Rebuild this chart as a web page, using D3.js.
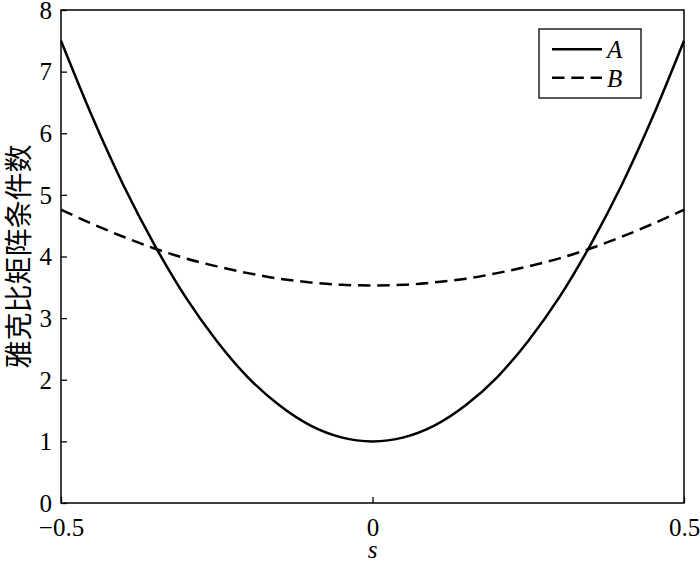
<!DOCTYPE html>
<html><head><meta charset="utf-8">
<script src="https://cdn.jsdelivr.net/npm/d3@7"></script>
<style>body{margin:0;background:#fff}svg{display:block}</style>
</head><body>
<script>
const sValues = [-0.5,-0.45,-0.4,-0.35,-0.3,-0.25,-0.2,-0.15,-0.1,-0.05,0,0.05,0.1,0.15,0.2,0.25,0.3,0.35,0.4,0.45,0.5];
const seriesA = [7.5,6.27,5.16,4.19,3.34,2.63,2.04,1.59,1.26,1.065,1.0,1.065,1.26,1.59,2.04,2.63,3.34,4.19,5.16,6.27,7.5];
const seriesB = [4.76,4.53,4.32,4.13,3.97,3.84,3.73,3.64,3.58,3.54,3.53,3.54,3.58,3.64,3.73,3.84,3.97,4.13,4.32,4.53,4.76];
const xTicks = [-0.5,0,0.5];
const yTicks = [0,1,2,3,4,5,6,7,8];
const legendLabels = ["A","B"];
const yLabel = "雅克比矩阵条件数";
const xLabel = "s";

const W=700,H=562;
const L=61,R=684,T=10,B=503;
const svg=d3.select("body").append("svg").attr("width",W).attr("height",H);
const x=d3.scaleLinear().domain([-0.5,0.5]).range([L,R]);
const y=d3.scaleLinear().domain([0,8]).range([B,T]);
const serif="'Liberation Serif','Times New Roman',serif";
const dash="12.5,6.8";

const line=d3.line().x((d,i)=>x(sValues[i])).y(d=>y(d)).curve(d3.curveMonotoneX);
svg.append("path").datum(seriesB).attr("d",line).attr("fill","none").attr("stroke","#000").attr("stroke-width",2.5).attr("stroke-dasharray",dash);
svg.append("path").datum(seriesA).attr("d",line).attr("fill","none").attr("stroke","#000").attr("stroke-width",2.5);

// axes
const xa=svg.append("g").attr("transform",`translate(0,${B})`).call(d3.axisBottom(x).tickValues(xTicks).tickSize(-6).tickPadding(14).tickFormat(d=>d===0?"0":(d<0?"\u2212":"")+Math.abs(d)));
const ya=svg.append("g").attr("transform",`translate(${L},0)`).call(d3.axisLeft(y).tickValues(yTicks).tickSize(-6).tickPadding(14));
[xa,ya].forEach(g=>{g.select(".domain").remove();g.selectAll("line").attr("stroke","#000").attr("stroke-width",1.3);g.selectAll("text").attr("font-family",serif).attr("font-size",25).attr("fill","#000");});
ya.selectAll("text").attr("dy","0.33em").attr("x",-9);
xa.selectAll("text").attr("y",15);

svg.append("rect").attr("x",L).attr("y",T).attr("width",R-L).attr("height",B-T).attr("fill","none").attr("stroke","#000").attr("stroke-width",1.5);

// labels
svg.append("text").attr("x",x(0)).attr("y",558).attr("text-anchor","middle").attr("font-family",serif).attr("font-style","italic").attr("font-size",25).text(xLabel);
svg.append("text").attr("transform",`translate(29,${(T+B)/2}) rotate(-90)`).attr("text-anchor","middle").attr("font-family","'Noto Sans CJK SC',sans-serif").attr("font-size",28).text(yLabel);

// legend
const lg=svg.append("g");
lg.append("rect").attr("x",539).attr("y",29).attr("width",102).attr("height",69).attr("fill","#fff").attr("stroke","#000").attr("stroke-width",1.3);
legendLabels.forEach((lab,i)=>{
  const yy=49.3+i*28.4;
  lg.append("line").attr("x1",552).attr("x2",602).attr("y1",yy).attr("y2",yy).attr("stroke","#000").attr("stroke-width",2.5).attr("stroke-dasharray",i?dash:null);
  lg.append("text").attr("x",607).attr("y",yy+9).attr("font-family",serif).attr("font-style","italic").attr("font-size",25).text(lab);
});
</script>
</body></html>
